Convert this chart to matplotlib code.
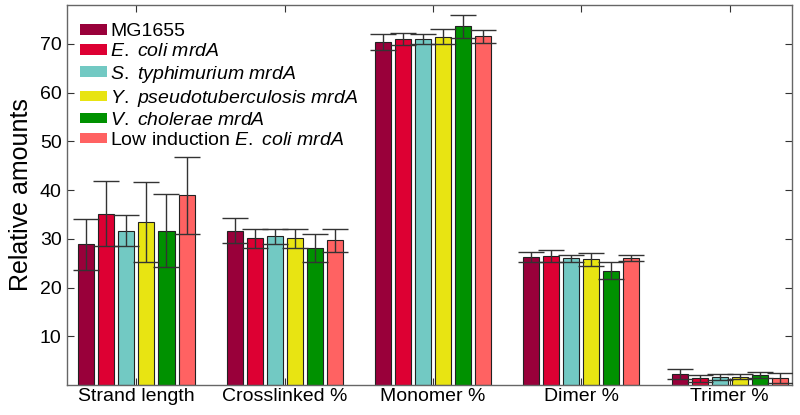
import matplotlib
matplotlib.use("Agg")
import matplotlib.pyplot as plt
import numpy as np
from matplotlib.patches import Patch

plt.rcParams['font.family'] = ['Liberation Sans', 'DejaVu Sans']
plt.rcParams['mathtext.fontset'] = 'custom'
plt.rcParams['mathtext.rm'] = 'Liberation Sans'
plt.rcParams['mathtext.it'] = 'Liberation Sans:italic'

categories = ["Strand length", "Crosslinked %", "Monomer %", "Dimer %", "Trimer %"]
series = ["MG1655",
          r"$\it{E.\ coli\ mrdA}$",
          r"$\it{S.\ typhimurium\ mrdA}$",
          r"$\it{Y.\ pseudotuberculosis\ mrdA}$",
          r"$\it{V.\ cholerae\ mrdA}$",
          r"Low induction $\it{E.\ coli\ mrdA}$"]
colors = ["#99003a", "#dd0033", "#72c9c3", "#e8e412", "#009100", "#ff6262"]

mg1655 = [28.9, 31.7, 70.4, 26.3, 2.3]
ecoli = [35.2, 30.1, 71.0, 26.5, 1.4]
styph = [31.7, 30.5, 71.0, 26.0, 1.7]
ypseudo = [33.5, 30.1, 71.5, 25.8, 1.7]
vchol = [31.7, 28.2, 73.6, 23.5, 2.0]
lowind = [39.0, 29.7, 71.6, 26.0, 1.5]

mg1655_err = [5.2, 2.5, 1.65, 1.0, 1.0]
ecoli_err = [6.7, 1.9, 1.3, 1.2, 0.75]
styph_err = [3.2, 1.6, 1.1, 0.8, 0.6]
ypseudo_err = [8.2, 2.0, 1.6, 1.35, 0.5]
vchol_err = [7.5, 2.9, 2.3, 1.7, 0.6]
lowind_err = [7.9, 2.4, 1.35, 0.6, 1.0]

values = [mg1655, ecoli, styph, ypseudo, vchol, lowind]
errors = [mg1655_err, ecoli_err, styph_err, ypseudo_err, vchol_err, lowind_err]

fig = plt.figure(figsize=(8, 4.15), dpi=100)
ax = fig.add_axes([0.084, 0.072, 0.906, 0.916])

x = np.arange(len(categories))
step = 0.135
width = 0.108
for i, (vals, errs, col) in enumerate(zip(values, errors, colors)):
    pos = x + (i - 2.5) * step
    ax.bar(pos, vals, width=width, color=col, edgecolor="#222222", linewidth=0.8, zorder=2)
    ax.errorbar(pos, vals, yerr=errs, fmt='none', ecolor="#333333",
                elinewidth=1.0, capsize=9.5, capthick=1.0, zorder=3)

ax.set_xlim(-0.467, 4.42)
ax.set_ylim(0, 78)
ax.set_xticks(x)
ax.set_xticklabels(categories, fontsize=14)
ax.set_yticks([10, 20, 30, 40, 50, 60, 70])
ax.tick_params(axis='y', direction='in', right=True, length=5, labelsize=14, color="#333333", pad=4)
ax.tick_params(axis='x', direction='in', top=True, length=5, color="#333333", pad=2)
ax.set_ylabel("Relative amounts", fontsize=18, labelpad=5)
for s in ax.spines.values():
    s.set_color("#666666")
    s.set_linewidth(1.0)

handles = [Patch(facecolor=c, edgecolor='none') for c in colors]
ax.legend(handles, series, loc='upper left', frameon=False, fontsize=14,
          handlelength=1.4, handleheight=0.45, handletextpad=0.15,
          labelspacing=0.16, borderaxespad=0.25, bbox_to_anchor=(0.0, 0.985))

fig.savefig("out.png", dpi=100)
